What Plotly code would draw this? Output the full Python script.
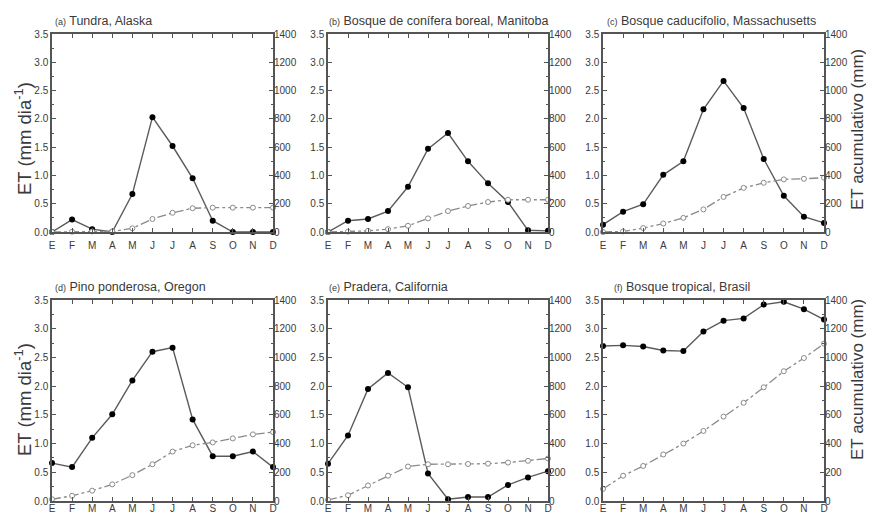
import plotly.graph_objects as go

months = ["E", "F", "M", "A", "M", "J", "J", "A", "S", "O", "N", "D"]
month_pos = list(range(1, 13))

titles = [("(a)", "Tundra, Alaska"),
          ("(b)", "Bosque de conífera boreal, Manitoba"),
          ("(c)", "Bosque caducifolio, Massachusetts"),
          ("(d)", "Pino ponderosa, Oregon"),
          ("(e)", "Pradera, California"),
          ("(f)", "Bosque tropical, Brasil")]

# daily ET (mm dia-1)
et_a = [0.0, 0.22, 0.05, 0.0, 0.67, 2.03, 1.52, 0.95, 0.2, 0.0, 0.0, 0.0]
et_b = [0.0, 0.2, 0.23, 0.37, 0.8, 1.47, 1.75, 1.25, 0.86, 0.53, 0.03, 0.02]
et_c = [0.13, 0.36, 0.49, 1.01, 1.25, 2.17, 2.67, 2.19, 1.29, 0.64, 0.27, 0.16]
et_d = [0.66, 0.59, 1.1, 1.51, 2.1, 2.6, 2.67, 1.42, 0.78, 0.78, 0.86, 0.59]
et_e = [0.65, 1.14, 1.95, 2.23, 1.98, 0.48, 0.03, 0.07, 0.07, 0.28, 0.41, 0.52]
et_f = [2.7, 2.71, 2.69, 2.62, 2.61, 2.95, 3.14, 3.18, 3.42, 3.47, 3.34, 3.16]

# cumulative ET (mm)
cum_a = [0, 2, 4, 4, 26, 92, 136, 168, 172, 172, 172, 172]
cum_b = [0, 3, 8, 20, 44, 96, 148, 184, 212, 228, 228, 228]
cum_c = [0, 4, 28, 60, 100, 160, 248, 312, 348, 372, 376, 384]
cum_d = [12, 36, 72, 116, 180, 256, 344, 388, 408, 436, 464, 480]
cum_e = [8, 40, 108, 176, 240, 256, 256, 258, 260, 268, 280, 296]
cum_f = [84, 176, 244, 324, 400, 488, 588, 684, 792, 904, 996, 1096]

et_all = [et_a, et_b, et_c, et_d, et_e, et_f]
cum_all = [cum_a, cum_b, cum_c, cum_d, cum_e, cum_f]

# page body has an 8px margin, so the figure is drawn 8px in from the corner
OFF = 8
W, H = 874 - OFF, 513 - OFF
# plot boxes in page pixels (left, right) and (top, bottom)
cols = [(52, 273), (328, 548), (603, 824)]
rows = [(34, 232), (300, 501)]
title_x = [53, 327, 605, 53, 327, 612]
label_standoff = [3, -3]
left_title_y = [139, 400]
right_title_y = [130, 380]

font = "Liberation Sans, Arial, sans-serif"
txt = "#3a3a3a"
axcol = "#555555"


def px(x):
    return (x - OFF) / W


def py(y):
    return 1 - (y - OFF) / H


fig = go.Figure()
layout = dict(width=W, height=H, margin=dict(l=0, r=0, t=0, b=0),
              paper_bgcolor="white", plot_bgcolor="white",
              showlegend=False, font=dict(family=font, color=txt, size=10))
annotations = []

for i in range(6):
    c0, c1 = cols[i % 3]
    r0, r1 = rows[i // 3]
    xn = i + 1
    yl = 2 * i + 1
    yr = 2 * i + 2
    xk = "x" if xn == 1 else f"x{xn}"
    ylk = "y" if yl == 1 else f"y{yl}"
    yrk = f"y{yr}"

    fig.add_trace(go.Scatter(x=month_pos, y=cum_all[i], xaxis=xk, yaxis=yrk,
                             mode="lines+markers", cliponaxis=False,
                             line=dict(color="#8a8a8a", width=1.3, dash="dashdot"),
                             marker=dict(symbol="circle", size=5, color="white",
                                         line=dict(color="#8a8a8a", width=1))))
    fig.add_trace(go.Scatter(x=month_pos, y=et_all[i], xaxis=xk, yaxis=ylk,
                             mode="lines+markers", cliponaxis=False,
                             line=dict(color="#5a5a5a", width=1.4),
                             marker=dict(symbol="circle", size=6, color="black")))

    layout[f"xaxis{'' if xn == 1 else xn}"] = dict(
        domain=[px(c0), px(c1)], anchor=ylk, range=[1, 12],
        tickvals=month_pos, ticktext=months, ticks="inside", ticklen=4,
        tickcolor=axcol, showline=True, linecolor=axcol, linewidth=1.5,
        mirror="ticks", showgrid=False, zeroline=False, automargin=False,
        ticklabelstandoff=label_standoff[i // 3],
        tickfont=dict(size=10, color=txt))
    layout[f"yaxis{'' if yl == 1 else yl}"] = dict(
        domain=[py(r1), py(r0)], anchor=xk, range=[0, 3.5],
        tickvals=[0, 0.5, 1, 1.5, 2, 2.5, 3, 3.5], tickformat=".1f",
        ticks="inside", ticklen=4, tickcolor=axcol,
        minor=dict(dtick=0.25, ticks="inside", ticklen=2, tickcolor=axcol),
        showline=True, linecolor=axcol, linewidth=1.5, mirror=True,
        showgrid=False, zeroline=False, automargin=False,
        tickfont=dict(size=10, color=txt))
    layout[f"yaxis{yr}"] = dict(
        overlaying=ylk, anchor=xk, side="right", range=[0, 1400],
        tickvals=[0, 200, 400, 600, 800, 1000, 1200, 1400],
        ticks="inside", ticklen=4, tickcolor=axcol,
        minor=dict(dtick=100, ticks="inside", ticklen=2, tickcolor=axcol),
        showline=False, showgrid=False, zeroline=False, automargin=False,
        tickfont=dict(size=10, color=txt))

    tag, name = titles[i]
    annotations.append(dict(
        xref="paper", yref="paper", x=px(title_x[i]), y=py(r0 - 4),
        xanchor="left", yanchor="bottom", showarrow=False,
        text=f"<span style='font-size:9px'>{tag}</span> {name}",
        font=dict(size=12.5, color=txt, family=font)))

for k in range(2):
    annotations.append(dict(
        xref="paper", yref="paper", x=px(23), y=py(left_title_y[k]), textangle=-90,
        xanchor="center", yanchor="middle", showarrow=False,
        text="ET (mm dia<sup>-1</sup>)", font=dict(size=18.5, color=txt, family=font)))
    annotations.append(dict(
        xref="paper", yref="paper", x=px(857), y=py(right_title_y[k]), textangle=-90,
        xanchor="center", yanchor="middle", showarrow=False,
        text="ET acumulativo (mm)", font=dict(size=17, color=txt, family=font)))

layout["annotations"] = annotations
fig.update_layout(**layout)
fig.write_html("out.html")
